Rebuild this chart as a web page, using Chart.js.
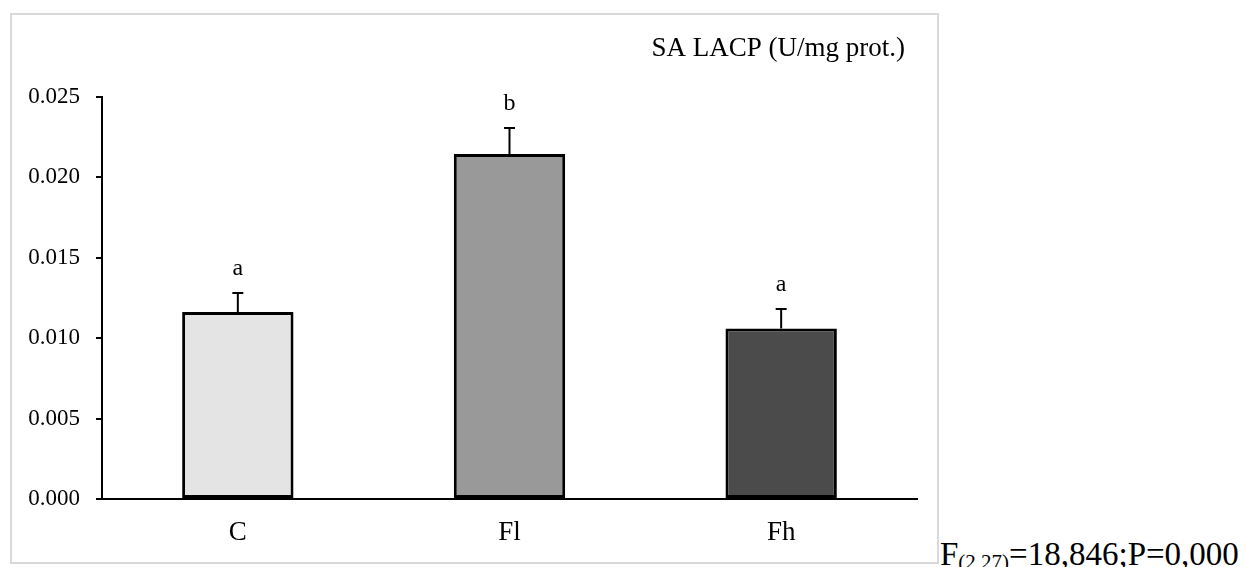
<!DOCTYPE html>
<html>
<head>
<meta charset="utf-8">
<script src="https://cdn.jsdelivr.net/npm/chart.js@4.4.1/dist/chart.umd.min.js"></script>
<style>
    body { margin: 0; background: #fff; width: 1246px; height: 567px; position: relative; overflow: hidden; }
    #box { position: absolute; left: 10px; top: 13px; width: 925px; height: 547px; border: 2px solid #d9d9d9; }
    #stat { position: absolute; left: 940px; top: 538px; font-family: "Liberation Serif", serif; font-size: 33px; line-height: 33px; color: #000; white-space: nowrap; }
    #stat sub { font-size: 21px; font-style: normal; vertical-align: -4px; line-height: 0; }
</style>
</head>
<body>
<div id="box"><canvas id="canvasLacp" width="925" height="547"></canvas></div>
<div id="stat">F<sub>(2,27)</sub>=18,846;P=0,000</div>
<script>
var groups = ['C', 'Fl', 'Fh'];
var means = [0.01163, 0.02146, 0.01060];
var errors = [0.00118, 0.00161, 0.00122];
var letters = ['a', 'b', 'a'];
var barColors = ['#e4e4e4', '#999999', '#4b4b4b'];
var titleText = 'SA LACP (U/mg prot.)';

var serif = '"Liberation Serif", "Times New Roman", serif';

// error bars, letters and the title in the corner
var extrasPlugin = {
    id: 'extras',
    afterDatasetsDraw: function(chart){
        var ctx = chart.ctx;
        var x = chart.scales.x;
        var y = chart.scales.y;
        ctx.save();
        ctx.strokeStyle = '#000';
        ctx.lineWidth = 2;
        ctx.fillStyle = '#000';
        ctx.font = '24px ' + serif;
        ctx.textAlign = 'center';
        ctx.textBaseline = 'alphabetic';
        for(var i = 0; i < groups.length; i++){
            var px = x.getPixelForValue(i);
            var top = y.getPixelForValue(means[i]);
            var errTop = y.getPixelForValue(means[i] + errors[i]);
            ctx.beginPath();
            ctx.moveTo(px, top);
            ctx.lineTo(px, errTop);
            ctx.moveTo(px - 5.5, errTop);
            ctx.lineTo(px + 5.5, errTop);
            ctx.stroke();
            ctx.fillText(letters[i], px, errTop - 18);
        }
        ctx.font = '27px ' + serif;
        ctx.textAlign = 'right';
        ctx.fillText(titleText, 893, 41);
        ctx.restore();
    }
};

var config = {
    type: 'bar',
    data: {
        labels: groups,
        datasets: [{
            data: means,
            backgroundColor: barColors,
            borderColor: '#000',
            borderWidth: 3,
            borderSkipped: false,
            barPercentage: 0.41,
            categoryPercentage: 1
        }]
    },
    options: {
        responsive: false,
        animation: false,
        devicePixelRatio: 1,
        layout: { padding: { top: 82, right: 20, left: 0, bottom: 0 } },
        plugins: {
            legend: { display: false },
            tooltip: { enabled: false }
        },
        scales: {
            x: {
                afterFit: function(scale){ scale.height = 63; },
                border: { color: '#000', width: 2 },
                grid: { drawOnChartArea: false, drawTicks: false },
                ticks: { color: '#000', padding: 18, font: { family: serif, size: 27 } }
            },
            y: {
                min: 0,
                max: 0.025,
                afterFit: function(scale){ scale.width = 90; },
                border: { color: '#000', width: 2 },
                grid: { drawOnChartArea: false, drawTicks: true, tickLength: 6, color: '#000', lineWidth: 2 },
                ticks: {
                    stepSize: 0.005,
                    color: '#000',
                    padding: 16,
                    font: { family: serif, size: 23 },
                    callback: function(v){ return v.toFixed(3); }
                }
            }
        }
    },
    plugins: [extrasPlugin]
};

var ctx = document.getElementById('canvasLacp').getContext('2d');
var chart = new Chart(ctx, config);
</script>
</body>
</html>
